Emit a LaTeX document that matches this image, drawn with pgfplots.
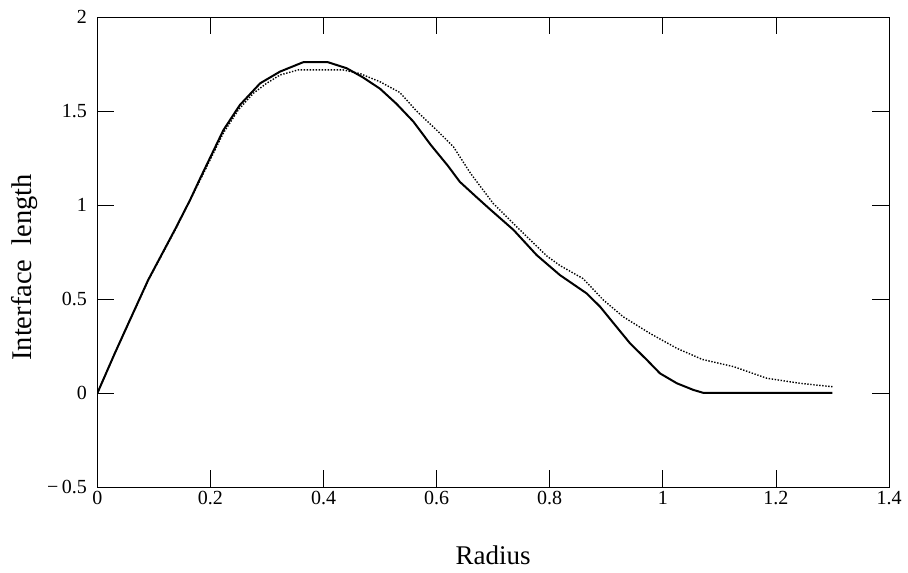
\documentclass[border=0pt]{standalone}
\usepackage{fontspec}
\setmainfont{Liberation Serif}
\usepackage{pgfplots}
\pgfplotsset{compat=1.18}
\begin{document}
\begin{tikzpicture}
\begin{axis}[
  scale only axis, width=791.7pt, height=470pt,
  at={(97.3pt,85.7pt)}, anchor=south west,
  xmin=0, xmax=1.4, ymin=-0.5, ymax=2,
  xtick={0,0.2,0.4,0.6,0.8,1,1.2,1.4},
  xticklabels={0,0.2,0.4,0.6,0.8,1,1.2,1.4},
  ytick={-0.5,0,0.5,1,1.5,2},
  yticklabels={−\,0.5,0,0.5,1,1.5,2},
  tick align=inside, major tick length=17pt,
  tick pos=both,
  xticklabel pos=left, yticklabel pos=left,
  ticklabel style={font=\fontsize{20}{24}\selectfont},
  yticklabel style={xshift=-7pt},
  xlabel={Radius}, ylabel={Interface\ \ length},
  xlabel style={font=\fontsize{27}{30}\selectfont, text depth=0pt, inner sep=0pt, at={(axis description cs:0.5,-0.145)}, anchor=center},
  ylabel style={font=\fontsize{28.5}{32}\selectfont, at={(axis description cs:-0.092,0.468)}, anchor=center},
  axis line style={line width=0.9pt},
  every tick/.style={black, line width=0.8pt},
]
\addplot[black, line width=2pt, line join=round] coordinates {
(0,0) (0.031,0.213) (0.055,0.372) (0.090,0.603) (0.137,0.869) (0.164,1.028)
(0.182,1.144) (0.223,1.400) (0.252,1.533) (0.288,1.649) (0.323,1.711)
(0.364,1.761) (0.408,1.761) (0.441,1.729) (0.470,1.680) (0.500,1.620)
(0.529,1.540) (0.559,1.445) (0.590,1.320) (0.620,1.210) (0.641,1.125)
(0.670,1.045) (0.694,0.980)
(0.736,0.869) (0.777,0.735) (0.818,0.629) (0.865,0.532) (0.889,0.461)
(0.918,0.354) (0.942,0.266) (0.972,0.177) (0.995,0.106) (1.025,0.053)
(1.054,0.018) (1.072,0.002) (1.300,0.002)
};
\addplot[black, line width=1.4pt, dash pattern=on 1.4pt off 1.6pt] coordinates {
(0,0) (0.031,0.213) (0.055,0.372) (0.090,0.600) (0.137,0.865) (0.182,1.135)
(0.223,1.385) (0.250,1.510) (0.276,1.596) (0.300,1.650) (0.323,1.693)
(0.355,1.720) (0.435,1.720) (0.465,1.700) (0.500,1.657) (0.535,1.600)
(0.565,1.500) (0.600,1.400) (0.630,1.310) (0.660,1.170) (0.700,1.010)
(0.747,0.870) (0.795,0.730) (0.818,0.680) (0.859,0.610)
(0.895,0.496) (0.930,0.407) (0.977,0.319) (1.025,0.239) (1.070,0.180)
(1.125,0.142) (1.184,0.080) (1.243,0.053) (1.300,0.035)
};
\end{axis}
\pgfresetboundingbox
\path (0,0) rectangle (908pt,573pt);
\end{tikzpicture}
\end{document}
